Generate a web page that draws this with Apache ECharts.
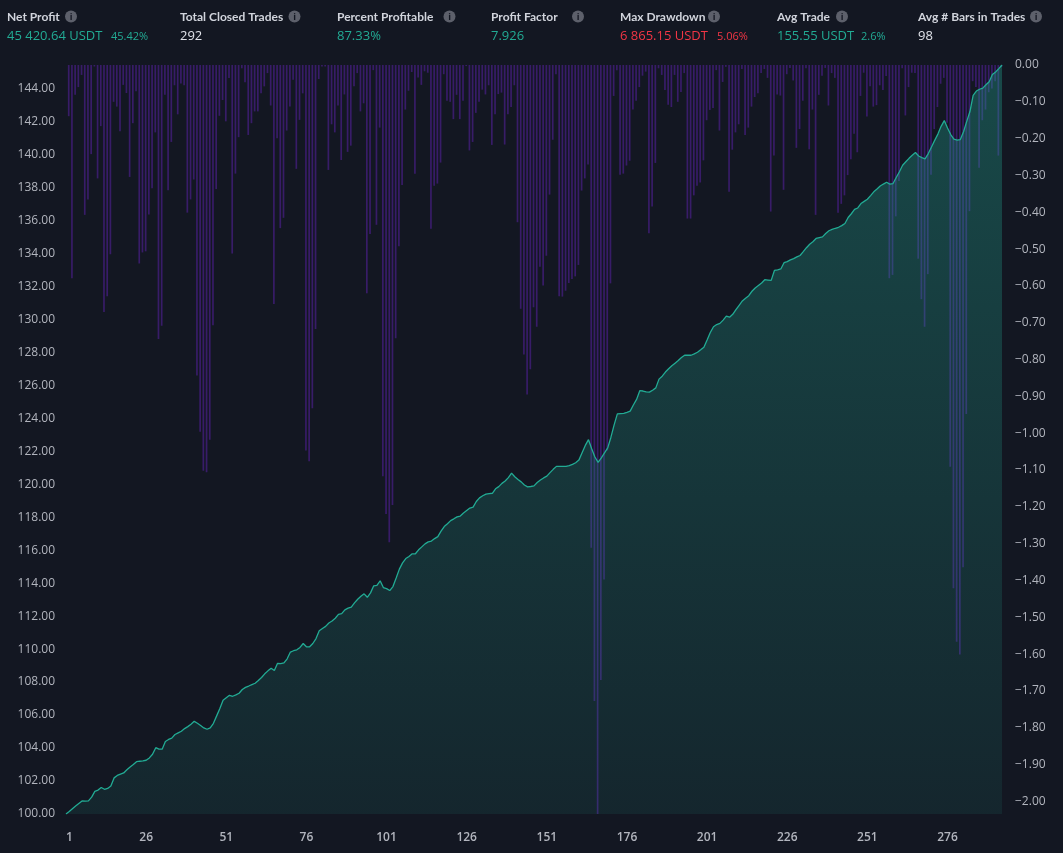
<!DOCTYPE html>
<html>
<head>
<meta charset="utf-8">
<script src="https://cdn.jsdelivr.net/npm/echarts@6/dist/echarts.min.js"></script>
<style>
html,body{margin:0;padding:0;background:#131722;}
#chart{width:1063px;height:853px;}
</style>
</head>
<body>
<div id="chart"></div>
<script>
// Equity (index = trades completed, 0..292), percent of initial capital
const equity = [
100.00,100.15,100.32,100.49,100.64,100.79,100.78,100.80,101.02,101.37,
101.45,101.61,101.50,101.55,101.70,102.19,102.34,102.42,102.49,102.68,
102.85,103.00,103.17,103.20,103.22,103.26,103.40,103.62,104.02,103.93,
103.93,104.40,104.52,104.60,104.82,104.92,105.02,105.18,105.30,105.44,
105.62,105.50,105.37,105.22,105.14,105.22,105.50,105.95,106.40,106.90,
107.05,107.20,107.14,107.22,107.32,107.55,107.68,107.76,107.85,107.93,
108.10,108.28,108.50,108.68,108.84,108.70,109.14,109.12,109.16,109.41,
109.82,109.90,109.96,110.10,110.34,110.14,110.14,110.34,110.64,111.11,
111.25,111.38,111.58,111.70,111.87,112.11,112.15,112.38,112.48,112.55,
112.80,113.02,113.20,113.35,113.14,113.41,113.84,113.87,114.14,113.73,
113.67,113.55,113.79,114.31,114.85,115.23,115.49,115.62,115.78,115.78,
116.02,116.20,116.38,116.50,116.55,116.70,116.82,117.15,117.43,117.60,
117.79,117.90,118.02,118.07,118.25,118.40,118.55,118.61,118.95,119.17,
119.30,119.40,119.43,119.45,119.72,119.85,120.05,120.19,120.40,120.67,
120.45,120.28,120.14,119.95,119.84,119.86,119.90,120.10,120.25,120.38,
120.49,120.70,120.90,121.08,121.08,121.08,121.08,121.12,121.20,121.30,
121.46,121.90,122.35,122.70,122.15,121.65,121.32,121.60,121.90,122.20,
122.85,123.60,124.26,124.28,124.30,124.36,124.43,124.80,125.14,125.67,
125.65,125.60,125.58,125.70,125.84,126.37,126.55,126.80,127.00,127.18,
127.34,127.50,127.68,127.82,127.82,127.82,127.90,128.00,128.15,128.31,
128.75,129.20,129.55,129.68,129.75,129.95,130.19,130.13,130.30,130.58,
130.85,131.11,131.28,131.43,131.70,131.90,132.05,132.20,132.40,132.38,
132.36,132.96,133.00,133.05,133.43,133.50,133.60,133.68,133.78,133.87,
134.10,134.34,134.55,134.70,134.90,134.95,135.00,135.20,135.37,135.45,
135.52,135.58,135.68,135.81,136.17,136.40,136.66,136.75,137.02,137.15,
137.28,137.50,137.73,137.90,138.08,138.20,138.31,138.20,138.23,138.60,
138.95,139.34,139.55,139.76,139.95,140.11,139.90,139.80,139.73,140.05,
140.45,140.85,141.23,141.70,142.05,141.60,141.20,140.93,140.87,140.90,
141.37,142.00,142.60,143.58,143.84,143.95,144.02,144.22,144.40,144.84,
145.00,145.20,145.42
];

// Drawdown per trade (trades 1..292), right axis (shown as negative)
const drawdown = [
0.139,0.579,0.081,0.060,0.027,0.407,0.365,0.242,0.004,0.308,
0.166,0.671,0.628,0.514,0.100,0.113,0.180,0.054,0.076,0.304,
0.158,0.071,0.539,0.509,0.506,0.406,0.335,0.183,0.744,0.708,
0.081,0.340,0.209,0.055,0.134,0.050,0.055,0.401,0.365,0.311,
0.843,0.996,1.102,1.106,1.018,0.707,0.337,0.138,0.095,0.153,
0.035,0.512,0.295,0.196,0.009,0.047,0.190,0.158,0.126,0.126,
0.077,0.058,0.022,0.110,0.649,0.199,0.443,0.415,0.178,0.113,
0.040,0.282,0.149,0.077,1.047,1.076,0.932,0.717,0.038,0.004,
0.004,0.285,0.161,0.183,0.110,0.258,0.080,0.236,0.219,0.058,
0.022,0.126,0.104,0.620,0.459,0.014,0.434,0.170,1.117,1.219,
1.296,1.195,0.742,0.492,0.326,0.121,0.070,0.019,0.295,0.034,
0.054,0.017,0.021,0.445,0.328,0.322,0.265,0.025,0.097,0.100,
0.147,0.081,0.147,0.097,0.003,0.232,0.209,0.130,0.100,0.067,
0.080,0.055,0.217,0.134,0.079,0.075,0.216,0.134,0.114,0.055,
0.427,0.662,0.786,0.895,0.826,0.658,0.711,0.548,0.599,0.518,
0.352,0.203,0.025,0.628,0.629,0.613,0.592,0.581,0.574,0.543,
0.341,0.308,0.270,1.311,1.727,2.034,1.670,1.397,1.047,0.593,
0.084,0.014,0.298,0.295,0.273,0.260,0.121,0.097,0.060,0.029,
0.018,0.457,0.384,0.266,0.009,0.027,0.068,0.108,0.114,0.027,
0.100,0.073,0.022,0.417,0.417,0.354,0.328,0.319,0.259,0.150,
0.122,0.117,0.014,0.178,0.046,0.005,0.344,0.230,0.183,0.161,
0.011,0.190,0.170,0.113,0.087,0.077,0.022,0.011,0.035,0.398,
0.246,0.080,0.083,0.339,0.025,0.008,0.042,0.225,0.174,0.097,
0.009,0.229,0.121,0.407,0.081,0.029,0.008,0.110,0.022,0.035,
0.401,0.377,0.354,0.299,0.256,0.187,0.237,0.084,0.021,0.140,
0.058,0.113,0.109,0.055,0.068,0.030,0.579,0.570,0.411,0.315,
0.009,0.137,0.060,0.021,0.022,0.526,0.636,0.711,0.568,0.298,
0.174,0.114,0.051,0.035,0.157,1.091,1.421,1.566,1.601,1.364,
0.948,0.397,0.044,0.060,0.279,0.150,0.121,0.074,0.064,0.044,
0.246,0.005
];

const xTickLabels = ['1','26','51','76','101','126','151','176','201','226','251','276'];

// Header statistics
const statLabels = ['Net Profit','Total Closed Trades','Percent Profitable','Profit Factor','Max Drawdown','Avg Trade','Avg # Bars in Trades'];
const statValues = ['45 420.64 USDT','292','87.33%','7.926','6 865.15 USDT','155.55 USDT','98'];
const statSubValues = ['45.42%','','','','5.06%','2.6%',''];
const statTones = ['pos','neutral','pos','pos','neg','pos','neutral'];

const FONT = "'Open Sans','Noto Sans',sans-serif";
const LABEL_FONT = "Lato,'Open Sans',sans-serif";
const toneColor = {pos:'#22ab94', neg:'#f23645', neutral:'#e1e3ea'};
// layout of header columns (pixel positions)
const colX = [7, 180, 337, 491, 620, 777, 918];
const iconX = [71, 294.5, 449.5, 578, 714, 842, 1036];
const subX = [111, 0, 0, 0, 717, 861, 0];

const graphics = [];
statLabels.forEach((lab, i) => {
  graphics.push({type:'text', x: colX[i], y: 17, style:{text: lab, fill:'#d1d4dc', font: "bold 12px " + LABEL_FONT, verticalAlign:'middle', textVerticalAlign:'middle'}});
  graphics.push({type:'circle', shape:{cx: iconX[i], cy: 16.5, r: 6}, style:{fill:'#5d606b'}});
  graphics.push({type:'text', x: iconX[i], y: 17, style:{text:'i', fill:'#131722', font:"bold 9px " + FONT, align:'center', textAlign:'center', verticalAlign:'middle', textVerticalAlign:'middle'}});
  graphics.push({type:'text', x: colX[i], y: 36, style:{text: statValues[i], fill: toneColor[statTones[i]], font: "13px " + FONT, verticalAlign:'middle', textVerticalAlign:'middle'}});
  if (statSubValues[i]) {
    graphics.push({type:'text', x: subX[i], y: 36.5, style:{text: statSubValues[i], fill: toneColor[statTones[i]], font: "11px " + FONT, verticalAlign:'middle', textVerticalAlign:'middle'}});
  }
});

const equityData = equity.map((v, i) => [i, v]);
const ddData = drawdown.map((v, i) => [i + 1 - 0.15, v]);

const chart = echarts.init(document.getElementById('chart'), null, {renderer:'canvas'});
chart.setOption({
  backgroundColor:'#131722',
  animation:false,
  graphic: graphics,
  grid:{left:66, right:61, top:65, bottom:39, containLabel:false},
  xAxis:{
    type:'value', min:0, max:292, interval:25,
    axisLine:{show:false}, axisTick:{show:false}, splitLine:{show:false},
    axisLabel:{
      color:'#b2b5be', fontSize:12, fontFamily:FONT, fontWeight:600, margin:18,
      showMaxLabel:false, alignMinLabel:'left',
      formatter: v => xTickLabels[Math.round(v/25)] || ''
    }
  },
  yAxis:[
    {type:'value', position:'left', min:100, max:145.42, interval:2,
     axisLine:{show:false}, axisTick:{show:false}, splitLine:{show:false},
     axisLabel:{color:'#b2b5be', fontSize:12, fontFamily:FONT, margin:11, showMaxLabel:false,
       padding:[3,0,0,0], formatter: v => v.toFixed(2)}},
    {type:'value', position:'right', inverse:true, min:0, max:2.034, interval:0.1,
     axisLine:{show:false}, axisTick:{show:false}, splitLine:{show:false},
     axisLabel:{color:'#b2b5be', fontSize:12, fontFamily:FONT, margin:13, showMaxLabel:false,
       padding:[3,0,0,0], formatter: v => v === 0 ? '0.00' : '\u2212' + v.toFixed(2)}}
  ],
  series:[
    {name:'Drawdown', type:'bar', xAxisIndex:0, yAxisIndex:1, data:ddData, barWidth:1.7, z:1,
     itemStyle:{color:'#381c68'}},
    {name:'EquityArea', type:'line', xAxisIndex:0, yAxisIndex:0, data:equityData, symbol:'none',
     lineStyle:{width:0}, z:2, silent:true,
     areaStyle:{origin:'start', opacity:1, color:new echarts.graphic.LinearGradient(0,0,0,1,[
       {offset:0, color:'rgba(34,171,148,0.34)'},
       {offset:1, color:'rgba(34,171,148,0.10)'}])}},
    {name:'Equity', type:'line', xAxisIndex:0, yAxisIndex:0, data:equityData, symbol:'none', z:3,
     lineStyle:{color:'#22ab94', width:1.3}}
  ]
});
</script>
</body>
</html>
